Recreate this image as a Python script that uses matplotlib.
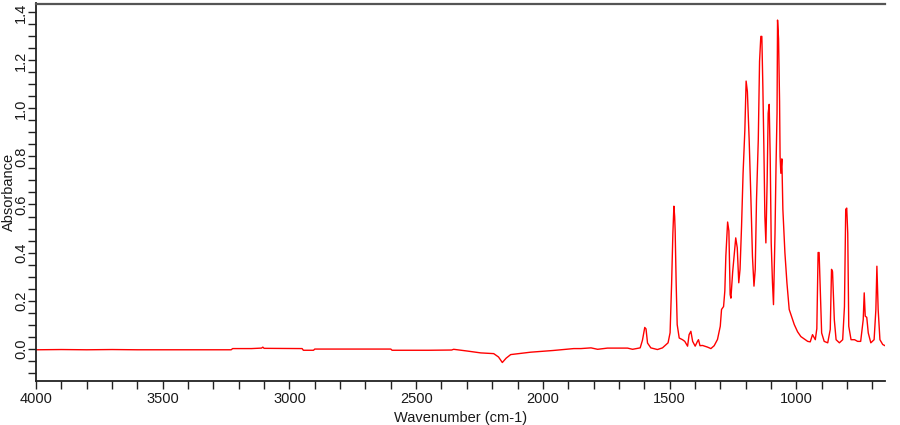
import matplotlib
matplotlib.use("Agg")
import matplotlib.pyplot as plt
from matplotlib.ticker import MultipleLocator, FormatStrFormatter

plt.rcParams['font.family'] = ['Liberation Sans', 'DejaVu Sans']

# Spectrum (wavenumber cm-1, absorbance)
wavenumber = [
    4000, 3900, 3800, 3700, 3600, 3400, 3230, 3224, 3150, 3110, 3105, 3100,
    2950, 2945, 2905, 2900, 2750, 2600, 2595, 2450, 2360, 2352, 2300, 2245,
    2194, 2175, 2160, 2145, 2127, 2048, 1960, 1878, 1850, 1810, 1784, 1745,
    1666, 1646, 1616, 1607, 1598, 1593, 1587, 1574, 1548, 1528, 1506, 1498,
    1492, 1487, 1483, 1480, 1478, 1474, 1470, 1462, 1449, 1440, 1429, 1423,
    1416, 1409, 1399, 1390, 1386, 1380, 1370, 1350, 1337, 1324, 1311, 1300,
    1295, 1287, 1282, 1278, 1271, 1266, 1261, 1258, 1251, 1245, 1239, 1233,
    1227, 1222, 1216, 1210, 1203, 1198, 1193, 1186, 1179, 1173, 1167, 1162,
    1157, 1150, 1145, 1140, 1136, 1132, 1128, 1124, 1120, 1115, 1111, 1107,
    1103, 1099, 1094, 1090, 1084, 1080, 1076, 1074, 1070, 1066, 1064, 1061,
    1057, 1053, 1045, 1037, 1028, 1008, 995, 982, 955, 945, 936, 925, 919,
    914, 910, 905, 900, 890, 876, 866, 861, 857, 850, 843, 830, 817, 810,
    805, 801, 797, 793, 784, 770, 758, 746, 736, 732, 728, 722, 716, 706,
    693, 686, 682, 677, 670, 659, 650,
]
absorbance = [
    -0.005, -0.004, -0.005, -0.004, -0.005, -0.005, -0.005, 0.000, 0.000, 0.002, 0.006, 0.001,
    0.000, -0.007, -0.007, -0.002, -0.002, -0.002, -0.007, -0.007, -0.006, -0.003, -0.010, -0.018,
    -0.021, -0.035, -0.058, -0.040, -0.025, -0.015, -0.008, 0.000, 0.000, 0.003, -0.003, 0.002,
    0.002, -0.003, 0.003, 0.035, 0.088, 0.082, 0.023, 0.003, -0.004, 0.003, 0.024, 0.066,
    0.270, 0.480, 0.593, 0.550, 0.490, 0.270, 0.100, 0.044, 0.037, 0.030, 0.010, 0.058,
    0.072, 0.030, 0.010, 0.030, 0.037, 0.012, 0.013, 0.006, 0.000, 0.012, 0.038, 0.093,
    0.163, 0.175, 0.240, 0.385, 0.527, 0.490, 0.225, 0.210, 0.320, 0.390, 0.461, 0.420,
    0.274, 0.330, 0.510, 0.730, 0.910, 1.114, 1.070, 0.870, 0.620, 0.384, 0.260, 0.330,
    0.620, 0.870, 1.196, 1.300, 1.300, 1.093, 0.842, 0.550, 0.440, 0.700, 0.980, 1.017,
    0.800, 0.440, 0.274, 0.183, 0.480, 0.760, 0.980, 1.368, 1.290, 1.030, 0.800, 0.730,
    0.790, 0.580, 0.400, 0.274, 0.163, 0.100, 0.070, 0.050, 0.030, 0.028, 0.058, 0.037, 0.083,
    0.400, 0.400, 0.232, 0.065, 0.030, 0.024, 0.080, 0.330, 0.320, 0.120, 0.037, 0.024, 0.037, 0.175,
    0.580, 0.585, 0.480, 0.093, 0.037, 0.037, 0.030, 0.030, 0.120, 0.232, 0.135, 0.130, 0.065, 0.024,
    0.037, 0.163, 0.343, 0.163, 0.037, 0.017, 0.012,
]

xticks_major = [4000, 3500, 3000, 2500, 2000, 1500, 1000]
x_label = "Wavenumber (cm-1)"
y_label = "Absorbance"

fig = plt.figure(figsize=(9, 4.25), dpi=100)
ax = fig.add_axes([36/900, 1 - 381/425, (885-36)/900, (381-3.5)/425])

ax.plot(wavenumber, absorbance, color='#ff0000', lw=1.0)

ax.set_xlim(4000, 650)
ax.set_ylim(-0.135, 1.437)

ax.set_xticks(xticks_major)
ax.xaxis.set_minor_locator(MultipleLocator(100))
ax.yaxis.set_major_locator(MultipleLocator(0.2))
ax.yaxis.set_minor_locator(MultipleLocator(0.05))
ax.yaxis.set_major_formatter(FormatStrFormatter('%.1f'))

for s in ['left', 'bottom']:
    ax.spines[s].set_color('#222222')
    ax.spines[s].set_linewidth(1.3)
ax.spines['top'].set_color('#555555')
ax.spines['top'].set_linewidth(1.6)
ax.spines['right'].set_visible(False)

ax.tick_params(axis='both', which='both', direction='out', length=5.5, width=1.0,
               color='#222222', labelsize=10.5, labelcolor='#1a1a1a')
ax.tick_params(axis='x', which='major', pad=2.5)
ax.tick_params(axis='y', which='major', pad=0.0)
for lbl in ax.get_yticklabels():
    lbl.set_rotation(90)
    lbl.set_va('center')

ax.set_xlabel(x_label, fontsize=10.5, color='#1a1a1a')
ax.xaxis.set_label_coords(0.5, -0.08)
ax.set_ylabel(y_label, fontsize=10.5, color='#1a1a1a')
ax.yaxis.set_label_coords(-0.0235, 0.5)

fig.savefig('out.png', dpi=100)
